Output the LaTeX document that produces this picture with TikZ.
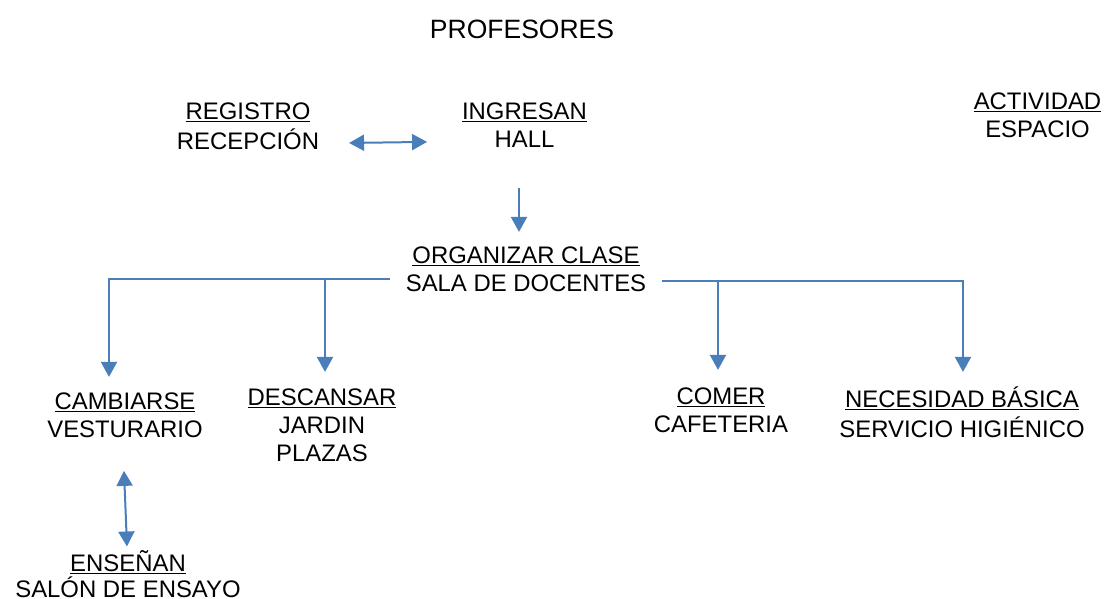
\documentclass[tikz,border=0pt]{standalone}
\usepackage{fontspec}
\setmainfont{Liberation Sans}
\usetikzlibrary{arrows.meta}
\definecolor{lineblue}{HTML}{4A7EBB}
\tikzset{
  lbl/.style={inner sep=0pt, outer sep=0pt, anchor=north, align=center,
    font=\fontsize{23.9}{28}\selectfont},
  tip/.tip={Triangle[width=16pt,length=15pt]},
  arr/.style={draw=lineblue, line width=2pt, -tip},
  dbl/.style={draw=lineblue, line width=2pt, tip-tip},
}
\newcommand{\ul}[1]{\underline{#1}\strut}
\begin{document}
\begin{tikzpicture}[x=1pt,y=-1pt]
\useasboundingbox (0,0) rectangle (1104,599);
% nodes (north = first baseline - 19.6)
\node[lbl, anchor=base, font=\fontsize{26.5}{30}\selectfont] (prof) at (522,38.3) {PROFESORES};
\node[lbl] (reg) at (248,99.9) {\ul{REGISTRO}\\RECEPCIÓN\strut};
\node[lbl] (ing) at (524.5,99.9) {\ul{INGRESAN}\\HALL\strut};
\node[lbl] (act) at (1037.5,89.9) {\ul{ACTIVIDAD}\\ESPACIO\strut};
\node[lbl] (org) at (526,243.9) {\ul{ORGANIZAR CLASE}\\SALA DE DOCENTES\strut};
\node[lbl] (cam) at (125,389.9) {\ul{CAMBIARSE}\\VESTURARIO\strut};
\node[lbl] (des) at (322,385.9) {\ul{DESCANSAR}\\JARDIN\strut\\PLAZAS\strut};
\node[lbl] (com) at (721,384.9) {\ul{COMER}\\CAFETERIA\strut};
\node[lbl] (nec) at (962,386.9) {\ul{NECESIDAD BÁSICA}\\SERVICIO HIGIÉNICO\strut};
\node[lbl, font=\fontsize{23.9}{26}\selectfont] (ens) at (128,550.5) {\underline{ENSEÑAN}\\SALÓN DE ENSAYO};
% connector helper points
\coordinate (ls) at ([xshift=-16pt,yshift=-7pt]org.west);
\coordinate (rs) at ([xshift=16pt,yshift=-9pt]org.east);
\coordinate (camtip) at ([xshift=-16pt,yshift=13pt]cam.north);
\coordinate (destip) at ([xshift=3pt,yshift=14pt]des.north);
\coordinate (comtip) at ([xshift=-3pt,yshift=15pt]com.north);
\coordinate (nectip) at ([xshift=1pt,yshift=15pt]nec.north);
% connectors
\draw[dbl] ([xshift=30pt,yshift=-14pt]reg.east) -- ([xshift=-35pt,yshift=-14pt]ing.west);
\draw[arr] ([xshift=-5.5pt,yshift=-32pt]ing.south) -- ([xshift=-7pt,yshift=12pt]org.north);
\draw[arr] (ls) -| (camtip);
\draw[arr] (destip |- ls) -- (destip);
\draw[arr] (rs) -| (nectip);
\draw[arr] (comtip |- rs) -- (comtip);
\draw[dbl] ([xshift=-1pt,yshift=-25pt]cam.south) -- ([xshift=2pt,yshift=4pt]ens.north -| cam.south);
\end{tikzpicture}
\end{document}
